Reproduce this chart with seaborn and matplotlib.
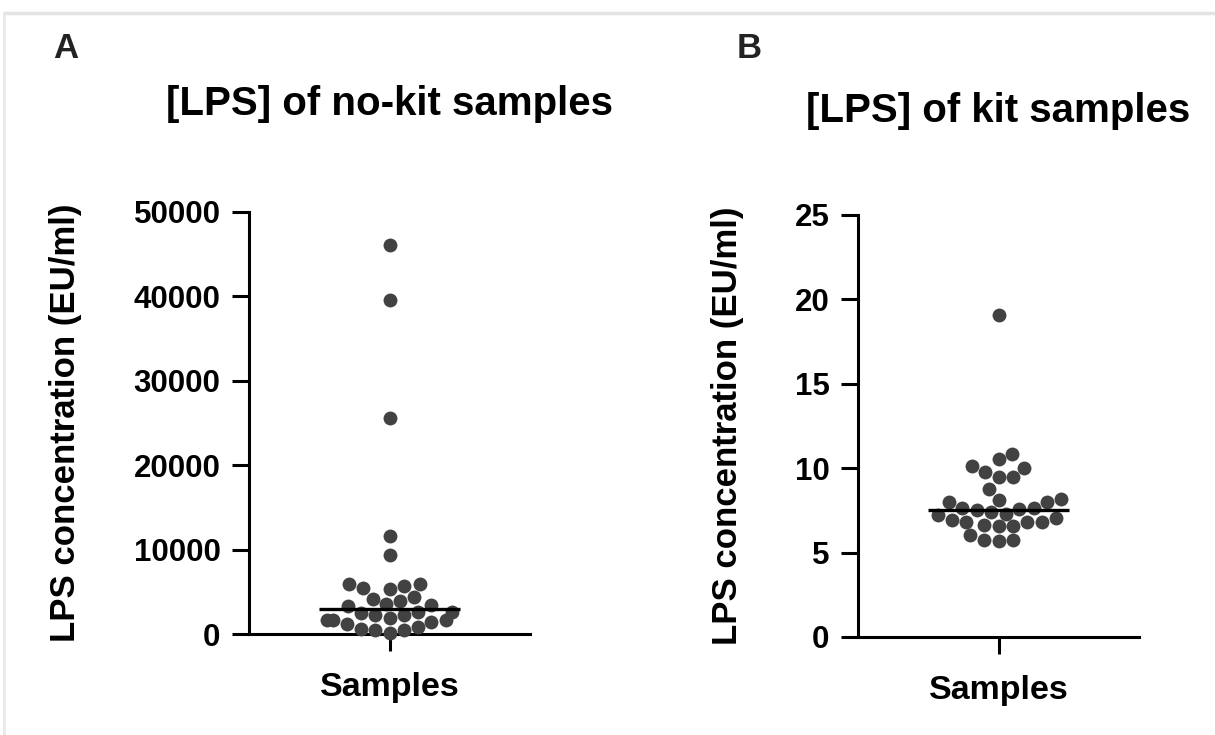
import numpy as np
import pandas as pd
import matplotlib
matplotlib.use("Agg")
import matplotlib.pyplot as plt
from matplotlib.lines import Line2D
import seaborn as sns

# values (EU/ml)
no_kit = [46100, 39600, 25600, 11600, 9400,
          5400, 5900, 5700, 5900, 5300,
          3500, 3900, 3400, 4200, 4400, 3300,
          1650, 1650, 2250, 1450, 2250, 2450, 2550, 2550, 1650, 1900,
          450, 550, 1150, 100, 850, 450]
kit = [19.1, 10.84, 10.55, 10.13, 9.79, 10.01, 9.46, 9.46, 8.75,
       8.16, 8.02, 7.98, 8.12, 7.29, 7.5, 7.56, 7.62, 7.39, 7.62, 7.25,
       7.07, 6.64, 6.83, 6.58, 6.83, 6.93, 6.83, 6.58, 6.04, 5.7, 5.75, 5.75]

titles = ["[LPS] of no-kit samples", "[LPS] of kit samples"]
letters = ["A", "B"]
yticks_a = [0, 10000, 20000, 30000, 40000, 50000]
yticks_b = [0, 5, 10, 15, 20, 25]
ylabel = "LPS concentration (EU/ml)"
xlabel = "Samples"

sns.set_theme(style="ticks")
plt.rcParams['font.family'] = ['Liberation Sans', 'DejaVu Sans']
plt.rcParams['font.weight'] = 'bold'

W, H = 1215, 735
fig = plt.figure(figsize=(W / 100, H / 100), dpi=100)

def px_axes(left, top, right, bottom):
    return fig.add_axes([left / W, 1 - bottom / H, (right - left) / W, (bottom - top) / H])

ax_a = px_axes(249, 212, 530, 634)
ax_b = px_axes(858, 215, 1139, 637)

dot = "#424242"
panels = [
    (ax_a, no_kit, yticks_a, -0.594, 115),
    (ax_b, kit, yticks_b, -0.406, 122),
]
for i, (ax, vals, yt, ylab_x, title_base) in enumerate(panels):
    df = pd.DataFrame({"grp": "s", "val": vals})
    sns.swarmplot(data=df, x="grp", y="val", ax=ax, color=dot, size=10,
                  linewidth=0)
    for c in ax.collections:
        c.set_clip_on(False)
    # median line
    med = np.median(vals)
    ax.hlines(med, -0.45, 0.45, color="black", lw=2.4, zorder=5, clip_on=False)

    ax.set_xlim(-0.9, 0.9)
    ax.set_ylim(yt[0], yt[-1])
    ax.set_yticks(yt)
    ax.set_xticks([0], labels=[""])
    ax.tick_params(axis="both", length=12.5, width=2.2, color="black",
                   labelsize=22.5, pad=8, labelcolor="black")
    for lab in ax.get_yticklabels():
        lab.set_fontweight("bold")
    sns.despine(ax=ax)
    for sp in ("left", "bottom"):
        ax.spines[sp].set_linewidth(2.2)
        ax.spines[sp].set_color("black")
    ax.set_facecolor("white")

    ax.set_ylabel(ylabel, fontsize=25, fontweight="bold", color="black")
    ax.yaxis.set_label_coords(ylab_x, 0.5)
    ax.set_xlabel(xlabel, fontsize=24.5, fontweight="bold", color="black")
    ax.xaxis.set_label_coords(0.5, -0.09)

    bb = ax.get_position()
    cx = bb.x0 + bb.width / 2
    fig.text(cx, 1 - title_base / H, titles[i], ha="center", va="baseline",
             fontsize=29, fontweight="bold", color="black")

fig.text(53 / W, 1 - 58 / H, letters[0], ha="left", va="baseline",
         fontsize=25, fontweight="bold", color="#222222")
fig.text(737 / W, 1 - 58 / H, letters[1], ha="left", va="baseline",
         fontsize=25, fontweight="bold", color="#222222")

# light frame on the top and left edge
fig.add_artist(Line2D([4 / W, 1], [1 - 13 / H, 1 - 13 / H], color="#e4e4e4", lw=2.5,
                      transform=fig.transFigure))
fig.add_artist(Line2D([4 / W, 4 / W], [0, 1 - 13 / H], color="#e8e8e8", lw=2.0,
                      transform=fig.transFigure))

fig.savefig("out.png", dpi=100, facecolor="white")
